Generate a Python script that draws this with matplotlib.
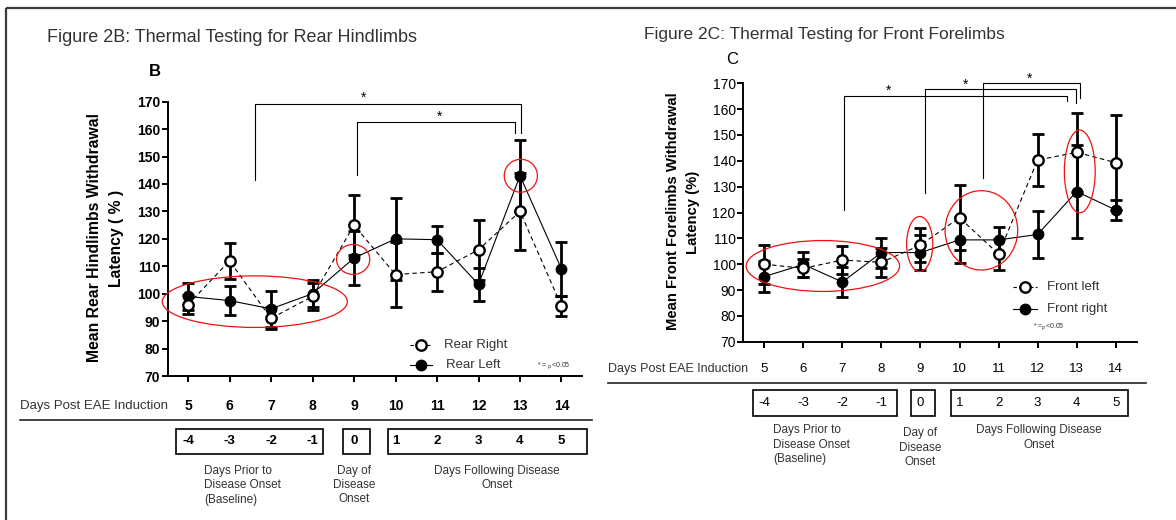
import matplotlib
matplotlib.use('Agg')
import matplotlib.pyplot as plt
from matplotlib.patches import Ellipse, Rectangle
from matplotlib.lines import Line2D
import matplotlib.transforms as mtransforms

plt.rcParams['font.family'] = ['Liberation Sans', 'DejaVu Sans']

# ---------------- data ----------------
days = [5, 6, 7, 8, 9, 10, 11, 12, 13, 14]
day_labels = ['5', '6', '7', '8', '9', '10', '11', '12', '13', '14']
prior_labels = ['-4', '-3', '-2', '-1']
onset_labels = ['0']
following_labels = ['1', '2', '3', '4', '5']

rear_right = [96, 112, 91, 99, 125, 107, 108, 116, 130, 95.5]
rear_right_err = [3.5, 6.5, 4, 5, 11, 12, 7, 11, 14, 3.5]
rear_left = [99, 97.5, 94.5, 100, 113, 120, 119.7, 103.4, 143, 109]
rear_left_err = [5, 5.3, 6.5, 5, 10, 15, 5, 6, 13, 10]

front_left = [100, 98.4, 101.6, 100.7, 107.4, 118, 103.9, 140.3, 143.3, 139.3]
front_left_err = [7.5, 3.5, 5.5, 5.5, 6.5, 12.6, 6, 10, 15.3, 18.4]
front_right = [95.2, 99.9, 93.1, 104.5, 104.5, 109.4, 109.4, 111.5, 128.1, 121]
front_right_err = [6, 5, 5.8, 5.8, 6.8, 8.8, 5, 9, 18, 3.8]

yticks = [70, 80, 90, 100, 110, 120, 130, 140, 150, 160, 170]

W, H = 1176, 520
fig = plt.figure(figsize=(W / 100, H / 100), dpi=100)
fig.patch.set_facecolor('white')


def frac(x0, y0, x1, y1):
    return [x0 / W, 1 - y1 / H, (x1 - x0) / W, (y1 - y0) / H]


ov = fig.add_axes([0, 0, 1, 1])
ov.set_xlim(0, W)
ov.set_ylim(H, 0)
ov.axis('off')
ov.patch.set_visible(False)

TXT = '#333333'

# outer frame (top + left)
ov.plot([6, W], [8, 8], color='#3b3a33', lw=1.6, solid_capstyle='butt')
ov.plot([6, 6], [8, H], color='#3b3a33', lw=1.6, solid_capstyle='butt')


def style_axes(ax, xl, bold):
    ax.set_xlim(*xl)
    ax.set_ylim(70, 170)
    for s in ['top', 'right']:
        ax.spines[s].set_visible(False)
    for s in ['left', 'bottom']:
        ax.spines[s].set_linewidth(1.4)
    ax.set_yticks(yticks)
    ax.set_yticklabels([str(t) for t in yticks],
                       fontweight='bold' if bold else 'normal', fontsize=10)
    ax.set_xticks(days)
    ax.set_xticklabels([])
    ax.tick_params(direction='out', length=4, width=1.4, pad=1.5)
    ax.patch.set_alpha(0)


def draw_series(ax, y_open, e_open, y_fill, e_fill):
    ax.errorbar(days, y_fill, yerr=e_fill, fmt='none', ecolor='black',
                elinewidth=2.0, capsize=4.5, capthick=2.0, zorder=2)
    ax.errorbar(days, y_open, yerr=e_open, fmt='none', ecolor='black',
                elinewidth=2.0, capsize=4.5, capthick=2.0, zorder=2)
    ax.plot(days, y_fill, '-', color='black', lw=0.8, zorder=3)
    ax.plot(days, y_open, '--', color='black', lw=0.8, dashes=(4, 3), zorder=3)
    ax.plot(days, y_fill, 'o', color='black', ms=7.5, zorder=4, clip_on=False)
    ax.plot(days, y_open, 'o', mfc='white', mec='black', mew=1.7, ms=7.5,
            zorder=5, clip_on=False)


def bracket(ax, x0, y0, x1, ytop, y1):
    ax.plot([x0, x0, x1, x1], [y0, ytop, ytop, y1], color='black', lw=0.8,
            clip_on=False, zorder=1)


def ell(ax, cx, cy, w, h):
    ax.add_patch(Ellipse((cx, cy), w, h, fill=False, edgecolor='#ee1111',
                         lw=0.9, clip_on=False, zorder=6))


# ================= Panel B =================
axB = fig.add_axes(frac(168, 101.7, 582, 376))
style_axes(axB, (4.518, 14.494), True)
draw_series(axB, rear_right, rear_right_err, rear_left, rear_left_err)
bracket(axB, 6.61, 141.4, 13.02, 169.2, 158.5)
bracket(axB, 9.07, 143.3, 12.88, 162.7, 158.5)
axB.text(9.22, 171.5, '*', ha='center', va='center', fontsize=10, clip_on=False)
axB.text(11.05, 164.6, '*', ha='center', va='center', fontsize=10, clip_on=False)
ell(axB, 6.61, 97.1, 4.46, 18.8)
ell(axB, 8.98, 112.5, 0.8, 10.9)
ell(axB, 13.02, 143.0, 0.8, 12.0)

ov.text(47, 37, 'Figure 2B: Thermal Testing for Rear Hindlimbs', fontsize=13,
        color=TXT, ha='left', va='center')
ov.text(155, 72, 'B', fontsize=12, fontweight='bold', ha='center', va='center')
ov.text(95, 238, 'Mean Rear Hindlimbs Withdrawal', rotation=90, fontsize=11.3,
        fontweight='bold', ha='center', va='center')
ov.text(116.7, 238, 'Latency ( % )', rotation=90, fontsize=11.3,
        fontweight='bold', ha='center', va='center')

# legend B
ov.plot([410, 432], [345, 345], '--', color='black', lw=0.8, dashes=(3, 2))
ov.plot([421], [345], 'o', mfc='white', mec='black', mew=1.7, ms=7.5)
ov.plot([410, 432], [365, 365], '-', color='black', lw=0.8)
ov.plot([421], [365], 'o', color='black', ms=7.5)
ov.text(444, 345, 'Rear Right', fontsize=9.5, color=TXT, va='center')
ov.text(446, 365, 'Rear Left', fontsize=9.5, color=TXT, va='center')
ov.text(537, 366, '* = $_p$<0.05', fontsize=5, color=TXT, va='center')

tB = mtransforms.blended_transform_factory(axB.transData, ov.transData)
ov.text(20, 406, 'Days Post EAE Induction', fontsize=9.5, color=TXT, va='center')
for d, lab in zip(days, day_labels):
    ov.text(d, 406, lab, transform=tB, fontsize=10, fontweight='bold',
            ha='center', va='center')
ov.plot([20, 592], [420, 420], color='#222222', lw=1.2)
for (a, b) in [(4.71, 8.25), (8.73, 9.39), (9.82, 14.62)]:
    ov.add_patch(Rectangle((a, 429), b - a, 25, transform=tB, fill=False,
                           edgecolor='black', lw=1.2))
for d, lab in zip(days, prior_labels + onset_labels + following_labels):
    ov.text(d, 441.5, lab, transform=tB, fontsize=9.5, fontweight='bold',
            ha='center', va='center')
ov.text(204, 465, 'Days Prior to\nDisease Onset\n(Baseline)', fontsize=8.5,
        color=TXT, ha='left', va='top', linespacing=1.25)
ov.text(9, 465, 'Day of\nDisease\nOnset', transform=tB, fontsize=8.5,
        color=TXT, ha='center', va='top', linespacing=1.25)
ov.text(497, 465, 'Days Following Disease\nOnset', fontsize=8.5,
        color=TXT, ha='center', va='top', linespacing=1.25)

# ================= Panel C =================
axC = fig.add_axes(frac(743.3, 83.3, 1136.7, 341.7))
style_axes(axC, (4.462, 14.538), False)
draw_series(axC, front_left, front_left_err, front_right, front_right_err)
bracket(axC, 7.03, 121.0, 12.75, 165.1, 163.3)
bracket(axC, 9.12, 127.7, 12.98, 167.8, 162.3)
bracket(axC, 10.59, 133.2, 13.09, 170.0, 164.2)
axC.text(8.18, 167.0, '*', ha='center', va='center', fontsize=10, clip_on=False)
axC.text(10.16, 169.6, '*', ha='center', va='center', fontsize=10, clip_on=False)
axC.text(11.79, 171.6, '*', ha='center', va='center', fontsize=10, clip_on=False)
ell(axC, 6.50, 99.3, 3.93, 19.7)
ell(axC, 8.98, 107.8, 0.67, 21.3)
ell(axC, 10.56, 113.1, 1.86, 30.7)
ell(axC, 13.08, 135.9, 0.79, 32.0)

ov.text(644, 34, 'Figure 2C: Thermal Testing for Front Forelimbs', fontsize=12.5,
        color=TXT, ha='left', va='center')
ov.text(732, 60, 'C', fontsize=12, ha='center', va='center')
ov.text(673, 211.5, 'Mean Front Forelimbs Withdrawal', rotation=90, fontsize=10.7,
        fontweight='bold', ha='center', va='center')
ov.text(692.7, 212, 'Latency (%)', rotation=90, fontsize=10.7,
        fontweight='bold', ha='center', va='center')

# legend C
ov.plot([1013, 1037], [287, 287], '--', color='black', lw=0.8, dashes=(3, 2))
ov.plot([1025], [287], 'o', mfc='white', mec='black', mew=1.7, ms=7.5)
ov.plot([1013, 1037], [309, 309], '-', color='black', lw=0.8)
ov.plot([1025], [309], 'o', color='black', ms=7.5)
ov.text(1047, 287, 'Front left', fontsize=9.5, color=TXT, va='center')
ov.text(1047, 309, 'Front right', fontsize=9.5, color=TXT, va='center')
ov.text(1033, 327, '* =$_p$<0.05', fontsize=5, color=TXT, va='center')

tC = mtransforms.blended_transform_factory(axC.transData, ov.transData)
ov.text(608, 369, 'Days Post EAE Induction', fontsize=9, color=TXT, va='center')
for d, lab in zip(days, day_labels):
    ov.text(d, 369, lab, transform=tC, fontsize=9.5, ha='center', va='center')
ov.plot([608, 1146], [382.5, 382.5], color='#222222', lw=1.2)
for (a, b) in [(4.71, 8.41), (8.76, 9.38), (9.77, 14.32)]:
    ov.add_patch(Rectangle((a, 389.5), b - a, 26.5, transform=tC, fill=False,
                           edgecolor='black', lw=1.2))
for d, lab in zip(days, prior_labels + onset_labels + following_labels):
    ov.text(d, 403, lab, transform=tC, fontsize=9.5,
            ha='center', va='center')
ov.text(773, 424, 'Days Prior to\nDisease Onset\n(Baseline)', fontsize=8.5,
        color=TXT, ha='left', va='top', linespacing=1.3)
ov.text(9, 427, 'Day of\nDisease\nOnset', transform=tC, fontsize=8.5,
        color=TXT, ha='center', va='top', linespacing=1.3)
ov.text(1039, 424, 'Days Following Disease\nOnset', fontsize=8.5,
        color=TXT, ha='center', va='top', linespacing=1.3)

fig.savefig('out.png', dpi=100, facecolor='white')
